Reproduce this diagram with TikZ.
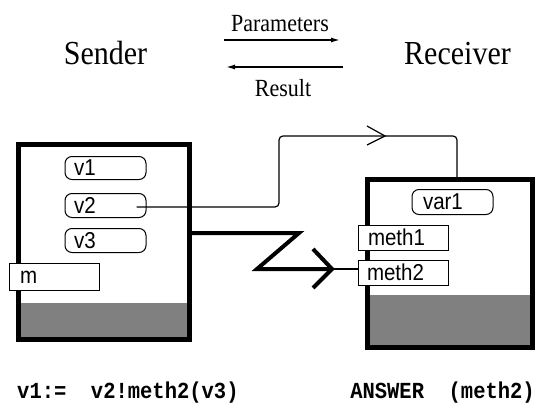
\documentclass[tikz,border=0pt]{standalone}
\usepackage{fontspec}
\usepackage{graphicx}
\setmainfont{Liberation Serif}
\newfontfamily\boxfont{Liberation Sans}
\newfontfamily\codefont{Liberation Mono}
\newcommand\talltext[1]{\scalebox{1}[1.12]{#1}}
\usetikzlibrary{arrows.meta}
\begin{document}
\begin{tikzpicture}[x=1pt,y=-1pt,
  bigbox/.style={draw, line width=5pt, inner sep=0pt, fill=white},
  tag/.style={draw, line width=1pt, fill=white, inner ysep=0pt, align=left,
    font={\boxfont\fontsize{20.5}{22}\selectfont}},
  vtag/.style={tag, rounded corners=7pt},
  bigtitle/.style={anchor=base, inner sep=0pt, font={\fontsize{30}{36}\selectfont}},
  smalltitle/.style={anchor=base, inner sep=0pt, font={\fontsize{22}{26}\selectfont}},
  code/.style={inner sep=0pt, font={\codefont\bfseries\fontsize{20.5}{24}\selectfont}},
  thinwire/.style={line width=1.2pt},
  thickwire/.style={line width=4pt, miter limit=10},
  flow/.style={line width=1.4pt, -{Latex[length=9pt,width=5pt]}}
]
\useasboundingbox (0,0) rectangle (536,404);

% titles
\node[bigtitle] (sendlbl) at (105.5,65) {\talltext{Sender}};
\node[bigtitle] (recvlbl) at (457.5,65) {\talltext{Receiver}};
\node[smalltitle] (params) at (280,32) {\talltext{Parameters}};
\node[smalltitle] (result) at (283,97) {\talltext{Result}};
\coordinate (pa) at (224,40); \coordinate (pb) at (340,40);
\coordinate (ra) at (343,67); \coordinate (rb) at (226,67);
\draw[flow] (pa) -- (pb);
\draw[flow] (ra) -- (rb);

% sender object
\node[bigbox, minimum width=171pt, minimum height=195pt,
  path picture={\fill[black!50] ([yshift=36.5pt]path picture bounding box.south west) rectangle (path picture bounding box.south east);}]
  (sender) at (104,242) {};
\node[vtag, minimum height=23pt, inner xsep=9pt, text width=63pt] (v1) at (105.5,168) {\talltext{v1}};
\node[vtag, minimum height=24pt, inner xsep=9pt, text width=63pt] (v2) at (105.5,205.5) {\talltext{v2}};
\node[vtag, minimum height=24pt, inner xsep=9pt, text width=63pt] (v3) at (105.5,240.5) {\talltext{v3}};
\node[tag, minimum height=27pt, inner xsep=11pt, text width=68pt] (m) at (54,277) {\talltext{m}};

% receiver object
\node[bigbox, minimum width=165pt, minimum height=168pt,
  path picture={\fill[black!50] ([yshift=52.5pt]path picture bounding box.south west) rectangle (path picture bounding box.south east);}]
  (recv) at (450,263.5) {};
\node[vtag, minimum height=25pt, inner xsep=11pt, text width=59pt] (var1) at (452.5,202) {\talltext{var1}};
\node[tag, minimum height=25pt, inner xsep=10pt, text width=70pt] (meth1) at (403,237.5) {\talltext{meth1}};
\node[tag, minimum height=25pt, inner xsep=9pt, text width=72pt] (meth2) at (403,272.5) {\talltext{meth2}};

% reference wire from v2 to receiver
\coordinate (ws) at ([xshift=-10pt,yshift=-1.5pt]v2.east);
\coordinate (w1) at (279,136);
\coordinate (w2) at (457,136);
\draw[thinwire, rounded corners=4pt] (ws) -| (w1) -- (w2) -- (w2 |- recv.north);
\coordinate (wa) at (367,126); \coordinate (wt) at (385,136); \coordinate (wb) at (367,145);
\draw[thinwire] (wa) -- (wt) -- (wb);

% message send (lightning)
\coordinate (z0) at ([yshift=9pt]sender.east);
\coordinate (z1) at (299,233);
\coordinate (z2) at (257,269);
\coordinate (zt) at (332,269);
\draw[thickwire] (z0) -- (z1) -- (z2) -- (zt);
\coordinate (ca) at (313,249); \coordinate (cb) at (313,288);
\draw[thickwire] (ca) -- (zt) -- (cb);
\draw[thinwire] (zt) -- (zt -| meth2.west);

% code lines
\node[code, anchor=base west] (call) at (17,398) {\talltext{v1:=~~v2!meth2(v3)}};
\node[code, anchor=base east] (answer) at (535,398) {\talltext{ANSWER~~(meth2)}};
\end{tikzpicture}
\end{document}
